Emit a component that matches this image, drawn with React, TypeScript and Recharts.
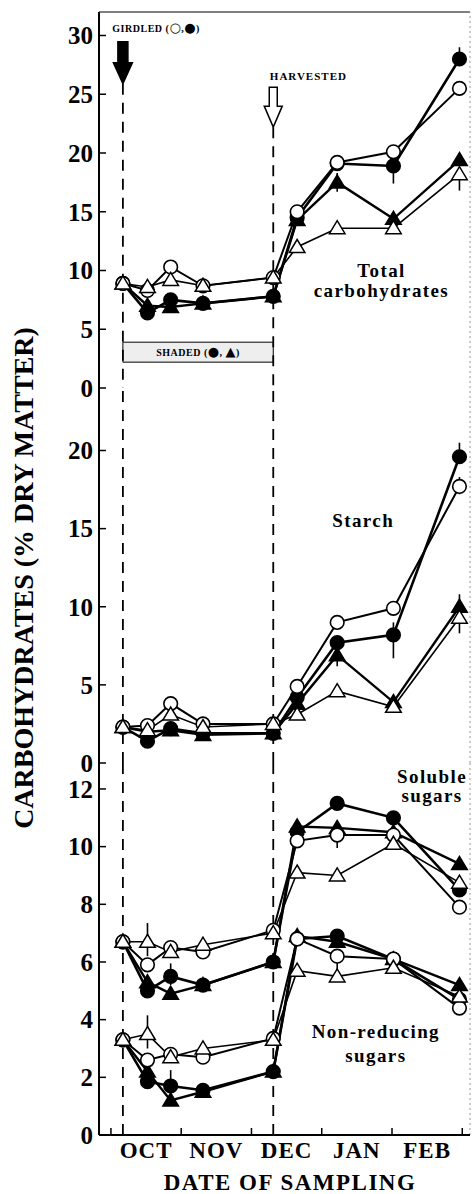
import React from "react";
import {
  LineChart,
  Line,
  XAxis,
  YAxis,
  ReferenceLine,
  ReferenceArea,
  ReferenceDot,
  ErrorBar,
} from "recharts";

const SERIF = "'Liberation Serif', 'Times New Roman', serif";

// sampling dates, in months after 1 October
const sampleMonths = [0.17, 0.52, 0.85, 1.31, 2.31, 2.65, 3.22, 4.02, 4.96];
const monthNames = ["OCT", "NOV", "DEC", "JAN", "FEB"];
const monthTicks = [0, 0.5, 1, 1.5, 2, 2.5, 3, 3.5, 4, 4.5, 5];
const girdleDate = 0.17;
const harvestDate = 2.31;

const totalTicks = [0, 5, 10, 15, 20, 25, 30];
const starchTicks = [0, 5, 10, 15, 20];
const sugarTicks = [0, 2, 4, 6, 8, 10, 12];

// total carbohydrates
const totalGirdled = [8.9, 8.3, 10.3, 8.7, 9.4, 15.0, 19.2, 20.1, 25.5];
const totalGirdledShaded = [8.9, 6.4, 7.5, 7.2, 7.8, 14.5, 19.1, 18.9, 28.0];
const totalShaded = [8.9, 7.0, 6.9, 7.2, 7.8, 14.3, 17.5, 14.4, 19.4];
const totalControl = [8.9, 8.6, 9.2, 8.7, 9.4, 12.0, 13.6, 13.6, 18.2];
const totalErrGirdled = [0, 0, 0, 0, 0, 0, 0, 0, [0.6, 0.5]];
const totalErrGirdledShaded = [0, 0, 0, 0, 0, 0, 0, [1.5, 0.4], [0.3, 1.0]];
const totalErrShaded = [0, 0, 0, 0, 0, 0, [0.8, 0.8], 0, 0];
const totalErrControl = [0, 0, 0, 0, 0, 0, 0, 0, [1.4, 0.3]];

// starch
const starchGirdled = [2.3, 2.4, 3.8, 2.5, 2.5, 4.9, 9.0, 9.9, 17.7];
const starchGirdledShaded = [2.3, 1.4, 2.2, 1.9, 1.9, 4.2, 7.7, 8.2, 19.6];
const starchShaded = [2.3, 2.0, 2.1, 1.8, 1.9, 3.8, 6.9, 3.9, 10.0];
const starchControl = [2.3, 2.1, 3.1, 2.3, 2.5, 3.1, 4.6, 3.6, 9.3];
const starchErrGirdled = [0, 0, 0, 0, 0, 0, 0, 0, [0.5, 0.6]];
const starchErrGirdledShaded = [0, 0, 0, 0, 0, 0, 0, [1.5, 0.8], [0.4, 0.9]];
const starchErrShaded = [0, 0, 0, 0, 0, 0, [0.7, 0.7], 0, [0.3, 0.8]];
const starchErrControl = [0, 0, 0, 0, 0, 0, 0, 0, [1.0, 0.3]];

// soluble sugars
const solGirdled = [6.7, 5.9, 6.5, 6.35, 7.1, 10.2, 10.4, 10.4, 7.9];
const solGirdledShaded = [6.7, 5.0, 5.5, 5.2, 6.0, 10.5, 11.5, 11.0, 8.5];
const solShaded = [6.7, 5.3, 4.9, 5.2, 6.0, 10.7, 10.65, 10.5, 9.4];
const solControl = [6.7, 6.7, 6.35, 6.6, 7.0, 9.1, 9.0, 10.1, 8.75];
const solErrGirdled = [0, 0, 0, 0, 0, 0, [0.45, 0.45], 0, 0];
const solErrGirdledShaded = [0, 0, [0.3, 0.45], 0, 0, 0, 0, 0, 0];
const solErrControl = [0, [0.5, 0.65], 0, 0, 0, 0, 0, 0, 0];

// non-reducing sugars
const nrsGirdled = [3.3, 2.6, 2.8, 2.7, 3.35, 6.8, 6.2, 6.1, 4.4];
const nrsGirdledShaded = [3.3, 1.85, 1.7, 1.55, 2.2, 6.8, 6.9, 6.1, 4.7];
const nrsShaded = [3.3, 2.2, 1.2, 1.5, 2.2, 6.9, 6.7, 6.1, 5.2];
const nrsControl = [3.3, 3.5, 2.7, 3.0, 3.3, 5.7, 5.5, 5.8, 4.8];
const nrsErrGirdled = [0, 0, 0, 0, 0, 0, [0.6, 0.2], 0, 0];
const nrsErrGirdledShaded = [0, 0, [0.3, 0.55], 0, 0, 0, 0, 0, 0];
const nrsErrControl = [0, [0.5, 0.65], 0, 0, 0, 0, 0, 0, 0];

const buildRows = (series: Record<string, any[]>) =>
  sampleMonths.map((m, i) => {
    const row: any = { month: m };
    Object.entries(series).forEach(([k, arr]) => {
      row[k] = arr[i];
    });
    return row;
  });

const totalRows = buildRows({
  gs: totalGirdledShaded, sh: totalShaded, gi: totalGirdled, co: totalControl,
  gsE: totalErrGirdledShaded, shE: totalErrShaded, giE: totalErrGirdled, coE: totalErrControl,
});
const starchRows = buildRows({
  gs: starchGirdledShaded, sh: starchShaded, gi: starchGirdled, co: starchControl,
  gsE: starchErrGirdledShaded, shE: starchErrShaded, giE: starchErrGirdled, coE: starchErrControl,
});
const sugarRows = buildRows({
  sgs: solGirdledShaded, ssh: solShaded, sgi: solGirdled, sco: solControl,
  sgsE: solErrGirdledShaded, sgiE: solErrGirdled, scoE: solErrControl,
  ngs: nrsGirdledShaded, nsh: nrsShaded, ngi: nrsGirdled, nco: nrsControl,
  ngsE: nrsErrGirdledShaded, ngiE: nrsErrGirdled, ncoE: nrsErrControl,
});

const marker = (kind: string) => (props: any) => {
  const { cx, cy, index } = props;
  const k = `${kind}-${index}`;
  if (cx == null || cy == null) return <g key={k} />;
  const fill = kind === "fc" || kind === "ft" ? "#000" : "#fff";
  if (kind === "oc" || kind === "fc") {
    return <circle key={k} cx={cx} cy={cy} r={6.8} fill={fill} stroke="#000" strokeWidth={1.6} />;
  }
  return (
    <polygon
      key={k}
      points={`${cx},${cy - 7.5} ${cx - 7.8},${cy + 5.5} ${cx + 7.8},${cy + 5.5}`}
      fill={fill}
      stroke="#000"
      strokeWidth={1.5}
    />
  );
};

function seriesLine(key: string, kind: string, width: number, errKey?: string) {
  return (
    <Line
      key={key}
      type="linear"
      dataKey={key}
      stroke="#000"
      strokeWidth={width}
      dot={marker(kind)}
      activeDot={false}
      isAnimationActive={false}
    >
      {errKey ? (
        <ErrorBar dataKey={errKey} width={0} stroke="#000" strokeWidth={1.6} direction="y" isAnimationActive={false} />
      ) : null}
    </Line>
  );
}

function yTick(props: any) {
  const { x, y, payload } = props;
  return (
    <g>
      <line x1={x} y1={y} x2={x + 7} y2={y} stroke="#000" strokeWidth={1.5} />
      <text x={x - 6} y={y} dy="0.35em" textAnchor="end" fontFamily={SERIF} fontWeight="bold" fontSize={25} fill="#000">
        {payload.value}
      </text>
    </g>
  );
}

function xTick(props: any, withLabels: boolean) {
  const { x, y, payload } = props;
  const v = payload.value;
  if (Number.isInteger(v)) {
    return <line x1={x} y1={y} x2={x} y2={y - 7} stroke="#000" strokeWidth={1.5} />;
  }
  if (!withLabels) return <g />;
  return (
    <text x={x} y={y + 23} textAnchor="middle" fontFamily={SERIF} fontWeight="bold" fontSize={23} letterSpacing={1} fill="#000">
      {monthNames[Math.floor(v)]}
    </text>
  );
}

function note(lines: string[], size: number, gap: number, anchor = "middle", spacing = 1.4) {
  return (p: any) => (
    <text x={p.cx} y={p.cy} textAnchor={anchor} fontFamily={SERIF} fontWeight="bold" fontSize={size} letterSpacing={spacing} fill="#000">
      {lines.map((l, i) => (
        <tspan key={i} x={p.cx} dy={i === 0 ? 0 : gap}>
          {l}
        </tspan>
      ))}
    </text>
  );
}

// label text followed by bigger marker glyphs in brackets
function symbolNote(label: string, glyphs: string[], sep: string, anchor: string) {
  return (p: any) => (
    <text x={p.cx} y={p.cy} dy="0.35em" textAnchor={anchor} fontFamily={SERIF} fontWeight="bold" fontSize={10} letterSpacing={0.5} fill="#000">
      {label} (
      {glyphs.map((g, i) => (
        <React.Fragment key={i}>
          {i > 0 ? sep : ""}
          <tspan fontSize={13} fontFamily="'DejaVu Sans', sans-serif">{g}</tspan>
        </React.Fragment>
      ))}
      )
    </text>
  );
}

const downArrow = (filled: boolean) => (p: any) => {
  const { cx, cy } = p;
  const sw = filled ? 5 : 4;
  const hw = filled ? 9.5 : 9;
  const top = filled ? 42 : 40;
  const pts = [
    [cx - sw, cy - top], [cx + sw, cy - top], [cx + sw, cy - 21], [cx + hw, cy - 21],
    [cx, cy], [cx - hw, cy - 21], [cx - sw, cy - 21],
  ].map((q) => q.join(",")).join(" ");
  return <polygon points={pts} fill={filled ? "#000" : "#fff"} stroke="#000" strokeWidth={1.5} />;
};

const axisLine = { stroke: "#000", strokeWidth: 2 };
const dash = "11 8";

function xAxis(withLabels: boolean) {
  return (
    <XAxis
      type="number"
      dataKey="month"
      domain={[-0.17, 5.11]}
      ticks={monthTicks}
      interval={0}
      allowDataOverflow
      tickLine={false}
      tickSize={0}
      tickMargin={0}
      height={withLabels ? 59 : 0}
      axisLine={axisLine}
      tick={(p: any) => xTick(p, withLabels)}
    />
  );
}

function yAxis(max: number, ticks: number[]) {
  return (
    <YAxis
      type="number"
      domain={[0, max]}
      ticks={ticks}
      interval={0}
      allowDataOverflow
      width={99}
      tickLine={false}
      tickSize={0}
      tickMargin={0}
      axisLine={axisLine}
      tick={yTick}
    />
  );
}

const rightEdge = <ReferenceLine x={5.11} stroke="#999" strokeDasharray="2 3" strokeWidth={1} ifOverflow="visible" />;

export default function App() {
  return (
    <div style={{ position: "absolute", left: 0, top: 0, width: 473, height: 1194, background: "#fff" }}>
      <div style={{ position: "absolute", left: 0, top: 0, zIndex: 3 }}>
        <LineChart width={473} height={406} data={totalRows} margin={{ top: 12, right: 3, bottom: 18, left: 0 }}>
          {xAxis(false)}
          {yAxis(32, totalTicks)}
          <ReferenceLine y={32} stroke="#000" strokeWidth={1.2} ifOverflow="visible" />
          {rightEdge}
          <ReferenceLine segment={[{ x: girdleDate, y: 25.9 }, { x: girdleDate, y: 0 }]} stroke="#000" strokeWidth={1.8} strokeDasharray={dash} />
          <ReferenceLine segment={[{ x: harvestDate, y: 22.2 }, { x: harvestDate, y: 0 }]} stroke="#000" strokeWidth={1.8} strokeDasharray={dash} />
          <ReferenceArea
            x1={girdleDate}
            x2={harvestDate}
            y1={2.2}
            y2={3.9}
            fill="#eeeeee"
            fillOpacity={1}
            stroke="#000"
            strokeWidth={1}
          />
          <ReferenceDot x={(girdleDate + harvestDate) / 2} y={3.05} r={0} shape={symbolNote("SHADED", ["●", "▲"], ", ", "middle")} ifOverflow="visible" />
          <ReferenceDot x={girdleDate} y={25.9} r={0} shape={downArrow(true)} ifOverflow="visible" />
          <ReferenceDot x={harvestDate} y={22.2} r={0} shape={downArrow(false)} ifOverflow="visible" />
          <ReferenceDot x={0.02} y={30.6} r={0} shape={symbolNote("GIRDLED", ["○", "●"], ",", "start")} ifOverflow="visible" />
          <ReferenceDot x={2.81} y={26.2} r={0} shape={note(["HARVESTED"], 11, 0, "middle", 1)} ifOverflow="visible" />
          <ReferenceDot x={3.85} y={9.45} r={0} shape={note(["Total", "carbohydrates"], 19, 20)} ifOverflow="visible" />
          {seriesLine("gs", "fc", 2.6, "gsE")}
          {seriesLine("sh", "ft", 2.4, "shE")}
          {seriesLine("gi", "oc", 2.0, "giE")}
          {seriesLine("co", "ot", 1.6, "coE")}
        </LineChart>
      </div>

      <div style={{ position: "absolute", left: 0, top: 380, zIndex: 2 }}>
        <LineChart width={473} height={401} data={starchRows} margin={{ top: 8, right: 3, bottom: 18, left: 0 }}>
          {xAxis(false)}
          {yAxis(24, starchTicks)}
          {rightEdge}
          <ReferenceLine x={girdleDate} stroke="#000" strokeWidth={1.8} strokeDasharray={dash} />
          <ReferenceLine x={harvestDate} stroke="#000" strokeWidth={1.8} strokeDasharray={dash} />
          <ReferenceDot x={3.59} y={15.1} r={0} shape={note(["Starch"], 19, 0)} ifOverflow="visible" />
          {seriesLine("gs", "fc", 2.6, "gsE")}
          {seriesLine("sh", "ft", 2.4, "shE")}
          {seriesLine("gi", "oc", 2.0, "giE")}
          {seriesLine("co", "ot", 1.6, "coE")}
        </LineChart>
      </div>

      <div style={{ position: "absolute", left: 0, top: 755, zIndex: 1 }}>
        <LineChart width={473} height={439} data={sugarRows} margin={{ top: 8, right: 3, bottom: 0, left: 0 }}>
          {xAxis(true)}
          {yAxis(12.9, sugarTicks)}
          {rightEdge}
          <ReferenceLine x={girdleDate} stroke="#000" strokeWidth={1.8} strokeDasharray={dash} />
          <ReferenceLine x={harvestDate} stroke="#000" strokeWidth={1.8} strokeDasharray={dash} />
          <ReferenceDot x={4.57} y={12.2} r={0} shape={note(["Soluble", "sugars"], 19, 19)} ifOverflow="visible" />
          <ReferenceDot x={3.77} y={3.36} r={0} shape={note(["Non-reducing", "sugars"], 19, 24)} ifOverflow="visible" />
          {seriesLine("sgs", "fc", 2.6, "sgsE")}
          {seriesLine("ssh", "ft", 2.4)}
          {seriesLine("sgi", "oc", 2.0, "sgiE")}
          {seriesLine("sco", "ot", 1.6, "scoE")}
          {seriesLine("ngs", "fc", 2.6, "ngsE")}
          {seriesLine("nsh", "ft", 2.4)}
          {seriesLine("ngi", "oc", 2.0, "ngiE")}
          {seriesLine("nco", "ot", 1.6, "ncoE")}
        </LineChart>
      </div>

      <svg width={473} height={1194} style={{ position: "absolute", left: 0, top: 0, pointerEvents: "none", zIndex: 4 }}>
        <text
          x={23}
          y={578}
          dy="0.35em"
          transform="rotate(-90 23 578)"
          textAnchor="middle"
          fontFamily={SERIF}
          fontWeight="bold"
          fontSize={28}
          fill="#000"
        >
          CARBOHYDRATES (% DRY MATTER)
        </text>
        <text x={290} y={1190} textAnchor="middle" fontFamily={SERIF} fontWeight="bold" fontSize={23} letterSpacing={1.5} fill="#000">
          DATE OF SAMPLING
        </text>
      </svg>
    </div>
  );
}
